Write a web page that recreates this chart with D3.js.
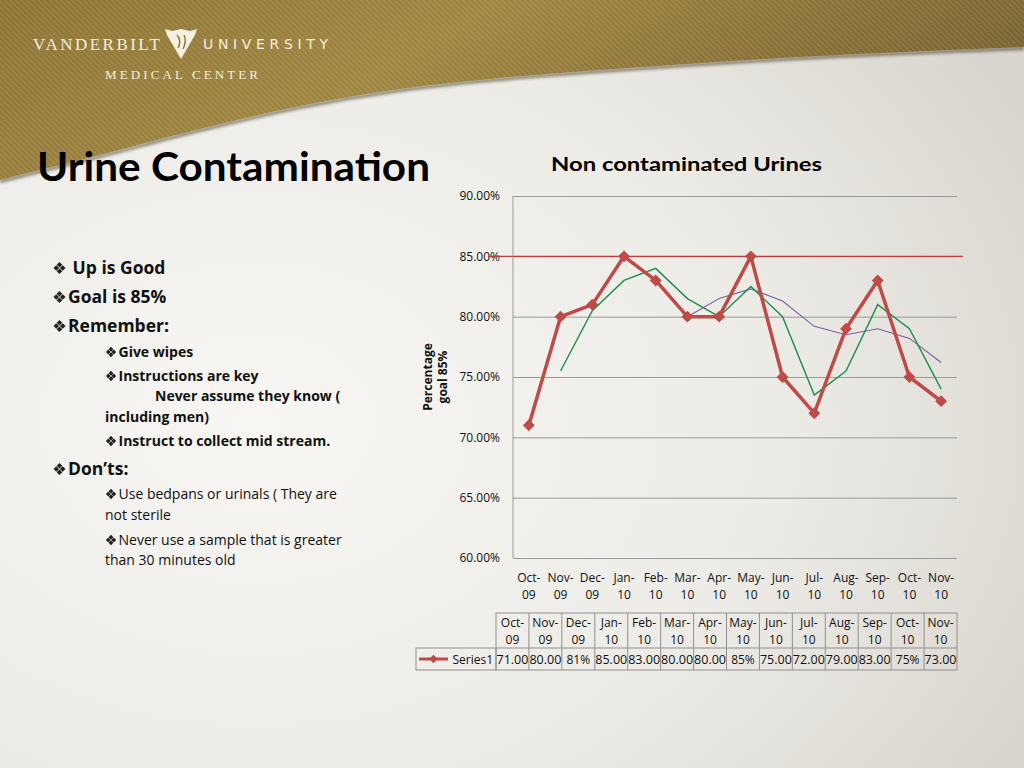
<!DOCTYPE html>
<html>
<head>
<meta charset="utf-8">
<script src="https://cdn.jsdelivr.net/npm/d3@7"></script>
<style>
  html, body { margin: 0; padding: 0; background: #efeee9; }
  svg { display: block; }
</style>
</head>
<body>
<div id="slide"></div>
<script>
/* DATA */
const months = ["Oct-09","Nov-09","Dec-09","Jan-10","Feb-10","Mar-10","Apr-10",
                "May-10","Jun-10","Jul-10","Aug-10","Sep-10","Oct-10","Nov-10"];
const series1 = [71, 80, 81, 85, 83, 80, 80, 85, 75, 72, 79, 83, 75, 73];
const tableLabels = ["71.00","80.00","81%","85.00","83.00","80.00","80.00",
                     "85%","75.00","72.00","79.00","83.00","75%","73.00"];
// 2-period moving average (green) and 6-period moving average (purple)
const trend2 = [null, 75.5, 80.5, 83, 84, 81.5, 80, 82.5, 80, 73.5, 75.5, 81, 79, 74];
const trend6 = [null, null, null, null, null, 80, 81.5, 82.3, 81.3, 79.2, 78.5, 79, 78.2, 76.2];
const yTicks = [60, 65, 70, 75, 80, 85, 90];
const goal = 85;

// slide bullets: level 1 = main, 2 = sub, 0 = continuation line (no bullet)
const bullets = [
  { t: " Up is Good", lvl: 1, x: 53, y: 274, bold: true },
  { t: "Goal is 85%", lvl: 1, x: 53, y: 303, bold: true },
  { t: "Remember:", lvl: 1, x: 53, y: 332, bold: true },
  { t: "Give wipes", lvl: 2, x: 105, y: 357, bold: true },
  { t: "Instructions are key", lvl: 2, x: 105, y: 381, bold: true },
  { t: "Never assume they know (", lvl: 0, x: 155, y: 401, bold: true },
  { t: "including men)", lvl: 0, x: 105, y: 422, bold: true },
  { t: "Instruct to collect mid stream.", lvl: 2, x: 105, y: 446, bold: true },
  { t: "Don\u2019ts:", lvl: 1, x: 53, y: 475, bold: true },
  { t: "Use bedpans or urinals ( They are", lvl: 2, x: 105, y: 499, bold: false },
  { t: "not sterile", lvl: 0, x: 105, y: 520, bold: false },
  { t: "Never use a sample that is greater", lvl: 2, x: 105, y: 545, bold: false },
  { t: "than 30 minutes old", lvl: 0, x: 105, y: 565, bold: false }
];

/* LAYOUT */
const W = 1024, H = 768;
const plot = { left: 513, right: 957, top: 196, bottom: 558 };
const FONT = "'Open Sans', Lato, sans-serif";
const RED = "#be4b48";

const svg = d3.select("#slide").append("svg")
  .attr("width", W).attr("height", H);

const defs = svg.append("defs");

const bodyGrad = defs.append("radialGradient").attr("id", "bodyGrad")
  .attr("cx", "25%").attr("cy", "55%").attr("r", "85%");
bodyGrad.append("stop").attr("offset", "0%").attr("stop-color", "#f7f6f3");
bodyGrad.append("stop").attr("offset", "60%").attr("stop-color", "#edebe6");
bodyGrad.append("stop").attr("offset", "100%").attr("stop-color", "#d9d6cf");

const goldGrad = defs.append("linearGradient").attr("id", "goldGrad")
  .attr("x1", "0%").attr("y1", "0%").attr("x2", "100%").attr("y2", "30%");
goldGrad.append("stop").attr("offset", "0%").attr("stop-color", "#8a7236");
goldGrad.append("stop").attr("offset", "45%").attr("stop-color", "#9e8542");
goldGrad.append("stop").attr("offset", "100%").attr("stop-color", "#766232");

const stripes = defs.append("pattern").attr("id", "stripes")
  .attr("patternUnits", "userSpaceOnUse").attr("width", 4).attr("height", 4)
  .attr("patternTransform", "rotate(45)");
stripes.append("rect").attr("width", 4).attr("height", 2).attr("fill", "rgba(255,235,170,0.10)");

const blur = defs.append("filter").attr("id", "blur");
blur.append("feGaussianBlur").attr("stdDeviation", 1.5);

/* BACKGROUND */
svg.append("rect").attr("width", W).attr("height", H).attr("fill", "url(#bodyGrad)");

const curvePts = [[0,180],[100,155],[200,129],[300,106],[400,89],[500,78],[600,70],[800,57],[1024,47]];
const curve = d3.line().curve(d3.curveMonotoneX);
const headerPath = curve(curvePts) + `L${W},0L0,0Z`;

svg.append("path").attr("d", curve(curvePts.map(p => [p[0], p[1] + 1.5])))
  .attr("fill", "none").attr("stroke", "rgba(40,30,10,0.55)").attr("stroke-width", 3)
  .attr("filter", "url(#blur)");
svg.append("path").attr("d", headerPath).attr("fill", "url(#goldGrad)");
svg.append("path").attr("d", headerPath).attr("fill", "url(#stripes)");

/* LOGO */
const logo = svg.append("g").attr("fill", "#f4efe0");
logo.append("text").attr("x", 33).attr("y", 50)
  .attr("font-family", "'Liberation Serif', serif").attr("font-size", 17)
  .attr("textLength", 127).attr("lengthAdjust", "spacing")
  .text("VANDERBILT");
logo.append("path")
  .attr("d", "M165,29 L172,31 L181,29 L190,31 L197,29 L195,35 L181,59 L167,35 Z");
logo.append("path")
  .attr("d", "M177,35 Q182,41 178,48 M184,35 Q187,41 183,49")
  .attr("fill", "none").attr("stroke", "#8c7538").attr("stroke-width", 1.4);
logo.append("text").attr("x", 203).attr("y", 49)
  .attr("font-family", "'DejaVu Sans', sans-serif").attr("font-size", 14)
  .attr("textLength", 125).attr("lengthAdjust", "spacing")
  .text("UNIVERSITY");
logo.append("text").attr("x", 105).attr("y", 79)
  .attr("font-family", "'Liberation Serif', serif").attr("font-size", 13)
  .attr("textLength", 153).attr("lengthAdjust", "spacing")
  .text("MEDICAL CENTER");

/* SLIDE TEXT */
svg.append("text").attr("x", 37).attr("y", 181)
  .attr("font-family", "Lato, sans-serif").attr("font-weight", 700).attr("font-size", 41)
  .attr("textLength", 393).attr("lengthAdjust", "spacingAndGlyphs")
  .attr("fill", "#000").text("Urine Contamination");

// four-diamond bullet mark
function bulletMark(g, cx, cy, r) {
  const d = 1.15 * r;
  [[0,-d],[d,0],[0,d],[-d,0]].forEach(([dx, dy]) => {
    g.append("path")
      .attr("d", `M${cx+dx},${cy+dy-r}L${cx+dx+r},${cy+dy}L${cx+dx},${cy+dy+r}L${cx+dx-r},${cy+dy}Z`)
      .attr("fill", "#222");
  });
}

const bulletG = svg.append("g");
bullets.forEach(b => {
  const size = b.lvl === 1 || (b.lvl === 0 && b.x === 53) ? 17.5 : 14;
  let tx = b.x;
  if (b.lvl === 1) { bulletMark(bulletG, b.x + 6.5, b.y - 6, 2.8); tx = b.x + 15; }
  if (b.lvl === 2) { bulletMark(bulletG, b.x + 6, b.y - 5, 2.4); tx = b.x + 13.5; }
  bulletG.append("text").attr("x", tx).attr("y", b.y)
    .attr("font-family", FONT).attr("font-size", size)
    .attr("font-weight", b.bold ? 700 : 400)
    .attr("xml:space", "preserve").style("white-space", "pre")
    .attr("fill", "#111").text(b.t);
});

/* CHART */
svg.append("text").attr("x", 551).attr("y", 171)
  .attr("font-family", "Lato, sans-serif").attr("font-weight", 700).attr("font-size", 19.5)
  .attr("textLength", 271).attr("lengthAdjust", "spacingAndGlyphs")
  .text("Non contaminated Urines");

const x = d3.scaleBand().domain(months).range([plot.left, plot.right]);
const y = d3.scaleLinear().domain([60, 90]).range([plot.bottom, plot.top]);

// gridlines + y labels
const yAxis = svg.append("g").attr("transform", `translate(${plot.left},0)`)
  .call(d3.axisLeft(y).tickValues(yTicks).tickSize(-(plot.right - plot.left))
        .tickPadding(13).tickFormat(d => d.toFixed(2) + "%"));
yAxis.select(".domain").remove();
yAxis.selectAll("line").attr("stroke", "#9a9a9a").attr("stroke-width", 1);
yAxis.selectAll("text").attr("font-family", FONT).attr("font-size", 12).attr("fill", "#111");

svg.append("line").attr("x1", plot.left).attr("x2", plot.left)
  .attr("y1", plot.top).attr("y2", plot.bottom).attr("stroke", "#9a9a9a");

// axis title
const yTitle = svg.append("text")
  .attr("transform", `translate(428,377) rotate(-90)`)
  .attr("text-anchor", "middle").attr("font-family", FONT)
  .attr("font-weight", 700).attr("font-size", 12).attr("fill", "#111");
yTitle.append("tspan").attr("x", 0).attr("y", 4).text("Percentage");
yTitle.append("tspan").attr("x", 0).attr("y", 19).text("goal 85%");

// x labels (two lines)
const xAxis = svg.append("g").attr("transform", `translate(0,${plot.bottom})`)
  .call(d3.axisBottom(x).tickSize(0).tickPadding(0));
xAxis.select(".domain").remove();
xAxis.selectAll("text").each(function(d) {
  const parts = d.split("-");
  const t = d3.select(this).text(null).attr("dy", null).attr("y", null)
    .attr("font-family", FONT).attr("font-size", 12).attr("fill", "#111");
  t.append("tspan").attr("x", 0).attr("y", 24).text(parts[0] + "-");
  t.append("tspan").attr("x", 0).attr("y", 41).text(parts[1]);
});

// goal line
svg.append("line").attr("x1", 488).attr("x2", 963)
  .attr("y1", y(goal)).attr("y2", y(goal))
  .attr("stroke", "#b5403d").attr("stroke-width", 1.1);

const cx = i => x(months[i]) + x.bandwidth() / 2;
const line = d3.line().defined(d => d != null).x((d, i) => cx(i)).y(d => y(d));

svg.append("path").datum(trend6).attr("d", line)
  .attr("fill", "none").attr("stroke", "#7b5ea7").attr("stroke-width", 1.1);
svg.append("path").datum(trend2).attr("d", line)
  .attr("fill", "none").attr("stroke", "#1f8c4e").attr("stroke-width", 1.4);
svg.append("path").datum(series1).attr("d", line)
  .attr("fill", "none").attr("stroke", RED).attr("stroke-width", 3.5)
  .attr("stroke-linejoin", "round");

const diamond = d3.symbol().type(d3.symbolDiamond2).size(90);
svg.append("g").selectAll("path").data(series1).join("path")
  .attr("transform", (d, i) => `translate(${cx(i)},${y(d)})`)
  .attr("d", diamond).attr("fill", RED);

/* DATA TABLE */
const tx = d3.scaleBand().domain(months).range([496, 957]);
const tTop = 613, tMid = 648, tBot = 670, tLeft = 416;
const table = svg.append("g").attr("font-family", FONT).attr("font-size", 12).attr("fill", "#111");
const gridStroke = "#8f8f8f";

table.append("rect").attr("x", tx.range()[0]).attr("y", tTop)
  .attr("width", tx.range()[1] - tx.range()[0]).attr("height", tBot - tTop)
  .attr("fill", "none").attr("stroke", gridStroke);
table.append("rect").attr("x", tLeft).attr("y", tMid)
  .attr("width", tx.range()[0] - tLeft).attr("height", tBot - tMid)
  .attr("fill", "none").attr("stroke", gridStroke);
table.append("line").attr("x1", tx.range()[0]).attr("x2", tx.range()[1])
  .attr("y1", tMid).attr("y2", tMid).attr("stroke", gridStroke);
table.selectAll("line.col").data(months.slice(1)).join("line").attr("class", "col")
  .attr("x1", d => tx(d)).attr("x2", d => tx(d))
  .attr("y1", tTop).attr("y2", tBot).attr("stroke", gridStroke);

const head = table.selectAll("text.head").data(months).join("text").attr("class", "head")
  .attr("text-anchor", "middle");
head.append("tspan").attr("x", d => tx(d) + tx.bandwidth() / 2).attr("y", 627)
  .text(d => d.split("-")[0] + "-");
head.append("tspan").attr("x", d => tx(d) + tx.bandwidth() / 2).attr("y", 644)
  .text(d => d.split("-")[1]);

table.selectAll("text.val").data(tableLabels).join("text").attr("class", "val")
  .attr("x", (d, i) => tx(months[i]) + tx.bandwidth() / 2).attr("y", 664)
  .attr("text-anchor", "middle")
  .attr("textLength", d => d.length > 3 ? 32 : null)
  .attr("lengthAdjust", "spacingAndGlyphs")
  .text(d => d);

// legend key
table.append("line").attr("x1", 419).attr("x2", 448).attr("y1", 659).attr("y2", 659)
  .attr("stroke", RED).attr("stroke-width", 3);
table.append("path").attr("transform", "translate(433.5,659)")
  .attr("d", d3.symbol().type(d3.symbolDiamond2).size(45)).attr("fill", RED);
table.append("text").attr("x", 493).attr("y", 664).attr("text-anchor", "end").text("Series1");
</script>
</body>
</html>
